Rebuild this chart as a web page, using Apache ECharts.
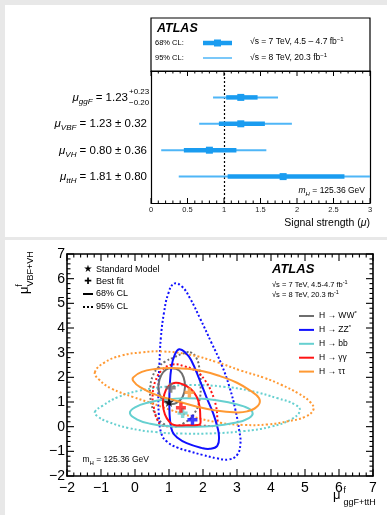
<!DOCTYPE html>
<html><head><meta charset="utf-8">
<script src="https://cdn.jsdelivr.net/npm/echarts@6/dist/echarts.min.js"></script>
<style>
html,body{margin:0;padding:0;background:#e8e8e8;}
#wrap{position:relative;width:387px;height:515px;overflow:hidden;}
.panel{position:absolute;background:#fff;}
#c{position:absolute;left:0;top:0;width:387px;height:515px;}
</style>
</head><body><div id="wrap">
<div class="panel" style="left:5px;top:5px;width:382px;height:232px;"></div>
<div class="panel" style="left:5px;top:240px;width:382px;height:275px;"></div>
<div id="c"></div></div>
<script>
// ---------- top panel data: signal strengths ----------
const prodModes = ['ggF', 'VBF', 'VH', 'ttH'];
const rowPos = [4, 3, 2, 1];
const muCentral = [1.23, 1.23, 0.80, 1.81];
const ci68Low = [1.03, 0.93, 0.45, 1.05];
const ci68High = [1.46, 1.56, 1.17, 2.65];
const ci95Low = [0.85, 0.66, 0.14, 0.38];
const ci95High = [1.74, 1.93, 1.58, 3.00];
const muLabelsMain = ['1.23', '1.23 ± 0.32', '0.80 ± 0.36', '1.81 ± 0.80'];
const topTicks = [0, 0.5, 1, 1.5, 2, 2.5, 3];
const topRows = [0, 5];
const smRef = 1;

// ---------- bottom panel data: 2D contours ----------
const bottomTicks = [-2, -1, 0, 1, 2, 3, 4, 5, 6, 7];
const channelNames = ['WW*', 'ZZ*', 'bb', 'γγ', 'ττ'];
const channelColors = ['#6e6e6e', '#1010ff', '#66d0d0', '#ff1414', '#ff9933'];
const bestFitX = [1.05, 1.69, 1.40, 1.35, 1.60];
const bestFitY = [1.58, 0.28, 0.55, 0.77, 1.39];
const smPoint = [1, 1];

const wwC68 = [[1.08,2.37],[1.30,2.28],[1.43,2.00],[1.47,1.60],[1.40,1.20],[1.22,0.96],[1.05,0.92],[0.85,1.03],[0.72,1.32],[0.69,1.70],[0.77,2.08],[0.91,2.31]];
const wwC95 = [[1.62,3.02],[1.80,2.80],[1.90,2.30],[1.93,1.70],[1.90,1.10],[1.75,0.55],[1.45,0.15],[1.10,0.00],[0.80,0.15],[0.58,0.55],[0.46,1.10],[0.45,1.60],[0.52,2.05],[0.68,2.40],[0.90,2.65],[1.13,2.80],[1.40,2.96]];
const zzC68 = [[1.30,3.14],[1.50,2.98],[1.65,2.70],[1.90,1.90],[2.10,1.20],[2.30,0.54],[2.42,0.00],[2.47,-0.40],[2.42,-0.78],[2.20,-0.90],[1.95,-0.86],[1.52,-0.67],[1.25,-0.45],[1.10,-0.20],[1.03,0.27],[1.01,1.00],[1.02,1.60],[1.07,2.40],[1.16,2.88]];
const zzC95 = [[1.15,5.80],[1.38,5.68],[1.62,5.20],[1.91,4.40],[2.25,3.40],[2.55,2.50],[2.78,1.60],[2.95,0.70],[3.07,-0.20],[3.10,-0.70],[3.00,-1.15],[2.75,-1.33],[2.40,-1.28],[2.00,-1.15],[1.60,-1.00],[1.25,-0.85],[0.95,-0.62],[0.78,-0.30],[0.70,0.50],[0.69,1.50],[0.72,2.60],[0.76,3.60],[0.85,4.60],[0.98,5.40]];
const bbC68 = [[-0.15,0.55],[0.00,0.78],[0.40,0.98],[0.90,1.10],[1.50,1.15],[2.10,1.12],[2.70,1.00],[3.20,0.82],[3.45,0.60],[3.35,0.35],[2.90,0.15],[2.30,0.03],[1.60,0.00],[1.00,0.02],[0.45,0.12],[0.05,0.30]];
const bbC95 = [[-1.18,0.60],[-0.95,0.85],[-0.50,1.20],[0.10,1.45],[0.90,1.62],[1.70,1.69],[2.60,1.62],[3.40,1.45],[4.20,1.15],[4.70,0.90],[4.85,0.65],[4.60,0.30],[4.00,0.00],[3.20,-0.18],[2.30,-0.27],[1.40,-0.28],[0.60,-0.22],[-0.20,-0.05],[-0.80,0.20],[-1.10,0.42]];
const ggC68 = [[1.15,1.77],[1.40,1.72],[1.65,1.52],[1.82,1.20],[1.90,0.80],[1.92,0.40],[1.92,0.12],[1.85,0.07],[1.50,0.06],[1.15,0.07],[1.00,0.22],[0.88,0.50],[0.82,0.90],[0.86,1.30],[0.97,1.62]];
const ggC95 = [[1.10,2.52],[1.45,2.45],[1.80,2.25],[2.05,1.90],[2.25,1.40],[2.38,0.85],[2.42,0.35],[2.40,0.07],[2.00,0.04],[1.40,0.04],[0.80,0.05],[0.65,0.30],[0.55,0.80],[0.52,1.30],[0.60,1.85],[0.80,2.30]];
const ttC68 = [[-0.05,2.00],[0.20,2.22],[0.60,2.34],[1.00,2.38],[1.50,2.35],[2.00,2.25],[2.50,2.05],[3.00,1.78],[3.40,1.45],[3.65,1.15],[3.62,0.85],[3.30,0.62],[2.90,0.58],[2.40,0.65],[1.80,0.82],[1.20,1.05],[0.60,1.30],[0.15,1.60],[-0.05,1.85]];
const ttC95 = [[-1.18,2.20],[-0.90,2.60],[-0.40,2.88],[0.20,3.01],[0.80,3.05],[1.60,2.92],[2.40,2.62],[3.10,2.28],[3.80,1.98],[4.30,1.70],[4.80,1.35],[5.15,1.00],[5.25,0.70],[5.00,0.40],[4.50,0.22],[3.90,0.09],[3.20,0.07],[2.50,0.16],[1.70,0.40],[1.00,0.70],[0.50,0.95],[-0.05,1.20],[-0.70,1.55],[-1.05,1.90]];

const contours68 = [wwC68, zzC68, bbC68, ggC68, ttC68];
const contours95 = [wwC95, zzC95, bbC95, ggC95, ttC95];

// ---------- styling ----------
const FONT = '"Liberation Sans", Arial, Helvetica, sans-serif';
const THICK = '#1a9cf0';
const THIN = '#4fb6f7';
const minus = v => (v < 0 ? '\u2212' + Math.abs(v) : String(v));

const chart = echarts.init(document.getElementById('c'), null, {renderer: 'canvas'});

function T(x, y, text, opt) {
  opt = opt || {};
  const st = Object.assign({
    text: text, fontFamily: FONT, fontSize: 9, fill: '#000',
    align: opt.align || 'left', textAlign: opt.align || 'left',
    verticalAlign: 'middle', textVerticalAlign: 'middle'
  }, opt.style || {});
  return {type: 'text', x: x, y: y, rotation: opt.rotation || 0, style: st, silent: true, z: 50};
}

const graphics = [
  {type: 'rect', shape: {x: 151, y: 18, width: 219, height: 53}, style: {fill: 'none', stroke: '#000', lineWidth: 1.2}, z: 40, silent: true},
  T(157, 29, 'ATLAS', {style: {fontSize: 12.5, fontWeight: 'bold', fontStyle: 'italic'}}),
  T(155, 43, '68% CL:', {style: {fontSize: 7.5}}),
  T(155, 58, '95% CL:', {style: {fontSize: 7.5}}),
  {type: 'line', shape: {x1: 203, y1: 43, x2: 232, y2: 43}, style: {stroke: THICK, lineWidth: 4.5}, z: 40, silent: true},
  {type: 'rect', shape: {x: 214, y: 39.5, width: 7, height: 7}, style: {fill: THICK}, z: 41, silent: true},
  {type: 'line', shape: {x1: 203, y1: 58, x2: 232, y2: 58}, style: {stroke: THIN, lineWidth: 1.5}, z: 40, silent: true},
  T(250, 42, '√s = 7 TeV, 4.5 – 4.7 fb{sup|−1}', {style: {fontSize: 8.5, rich: {sup: {fontSize: 6, verticalAlign: 'top', lineHeight: 8}}, lineHeight: 12}}),
  T(250, 58, '√s = 8 TeV, 20.3 fb{sup|−1}', {style: {fontSize: 8.5, rich: {sup: {fontSize: 6, verticalAlign: 'top', lineHeight: 8}}, lineHeight: 12}}),
  T(129, 97.5, '+0.23\n\u22120.20', {style: {fontSize: 8, lineHeight: 11}}),
  T(365, 191, '{i|m}{s|H} = 125.36 GeV', {align: 'right', style: {fontSize: 8.5, lineHeight: 12, rich: {i: {fontStyle: 'italic', fontSize: 8.5, fontFamily: FONT}, s: {fontStyle: 'italic', fontSize: 6, verticalAlign: 'bottom', lineHeight: 8, fontFamily: FONT}}}}),
  T(370, 223, 'Signal strength ({i|μ})', {align: 'right', style: {fontSize: 10.5, rich: {i: {fontStyle: 'italic', fontSize: 10.5, fontFamily: FONT}}}}),

  T(272, 269, 'ATLAS', {style: {fontSize: 13, fontWeight: 'bold', fontStyle: 'italic'}}),
  T(272, 285, '√s = 7 TeV, 4.5-4.7 fb{sup|-1}', {style: {fontSize: 7.5, lineHeight: 11, rich: {sup: {fontSize: 5.5, verticalAlign: 'top', lineHeight: 7}}}}),
  T(272, 295, '√s = 8 TeV, 20.3 fb{sup|-1}', {style: {fontSize: 7.5, lineHeight: 11, rich: {sup: {fontSize: 5.5, verticalAlign: 'top', lineHeight: 7}}}}),
  T(88, 269.5, '★', {align: 'center', style: {fontSize: 10, fontFamily: '"DejaVu Sans", sans-serif'}}),
  T(96, 269.5, 'Standard Model', {style: {fontSize: 9}}),
  T(88, 282, '✚', {align: 'center', style: {fontSize: 9, fontFamily: '"DejaVu Sans", sans-serif'}}),
  T(96, 282, 'Best fit', {style: {fontSize: 9}}),
  {type: 'line', shape: {x1: 83, y1: 294, x2: 93, y2: 294}, style: {stroke: '#000', lineWidth: 2}, z: 40, silent: true},
  T(96, 294, '68% CL', {style: {fontSize: 9}}),
  {type: 'line', shape: {x1: 83, y1: 307, x2: 94, y2: 307}, style: {stroke: '#000', lineWidth: 2, lineDash: [2, 2]}, z: 40, silent: true},
  T(96, 307, '95% CL', {style: {fontSize: 9}}),
  T(82.5, 460, 'm{s|H} = 125.36 GeV', {style: {fontSize: 8.5, lineHeight: 12, rich: {s: {fontSize: 6, verticalAlign: 'bottom', lineHeight: 8, fontFamily: FONT}}}}),
  T(333, 495, 'μ', {style: {fontSize: 13}}),
  T(343.5, 490.5, 'f', {style: {fontSize: 8.5}}),
  T(343.5, 503, 'ggF+ttH', {style: {fontSize: 9}}),
  T(24.5, 294, 'μ', {rotation: Math.PI / 2, style: {fontSize: 13}}),
  T(20, 286.5, 'f', {rotation: Math.PI / 2, style: {fontSize: 8.5}}),
  T(31, 286.5, 'VBF+VH', {rotation: Math.PI / 2, style: {fontSize: 9}})
];

prodModes.forEach((m, i) => {
  const yPix = [98, 124, 151, 177][i];
  const xr = i === 0 ? 128 : 147;
  graphics.push(T(xr, yPix, '{mu|μ}{sub|' + m + '}{n| = ' + muLabelsMain[i] + '}', {
    align: 'right',
    style: {fontSize: 11.5, lineHeight: 16, rich: {
      mu: {fontSize: 11.5, fontStyle: 'italic', lineHeight: 16, fontFamily: FONT},
      sub: {fontSize: 8, fontStyle: 'italic', verticalAlign: 'bottom', lineHeight: 11, fontFamily: FONT},
      n: {fontSize: 11.5, lineHeight: 16, fontFamily: FONT}
    }}
  }));
});

channelNames.forEach((c, i) => {
  const y = 316 + i * 13.9;
  graphics.push({type: 'line', shape: {x1: 299, y1: y, x2: 314, y2: y}, style: {stroke: channelColors[i], lineWidth: 2}, z: 40, silent: true});
  const txt = c.endsWith('*') ? 'H → ' + c.slice(0, -1) + '{sup|*}' : 'H → ' + c;
  graphics.push(T(319, y, txt, {style: {fontSize: 8.5, lineHeight: 12, rich: {sup: {fontSize: 6, verticalAlign: 'top', lineHeight: 8, fontFamily: FONT}}}}));
});

function contourSeries(pts, color, dotted) {
  return {
    type: 'custom', xAxisIndex: 2, yAxisIndex: 2, data: pts, clip: true, silent: true, z: dotted ? 3 : 4,
    renderItem: function (params, api) {
      if (params.dataIndex !== 0) return null;
      const points = pts.map(p => api.coord(p));
      return {type: 'polygon', shape: {points: points, smooth: 0.45},
        style: {fill: 'none', stroke: color, lineWidth: 2, lineDash: dotted ? [2, 2.2] : null}};
    }
  };
}

const series = [];
series.push({
  type: 'custom', xAxisIndex: 0, yAxisIndex: 0, clip: true, silent: true, z: 5,
  data: prodModes.map((m, i) => [muCentral[i], ci68Low[i], ci68High[i], ci95Low[i], ci95High[i], rowPos[i]]),
  renderItem: function (params, api) {
    const y = api.value(5);
    const c = api.coord([api.value(0), y]);
    const l68 = api.coord([api.value(1), y]), h68 = api.coord([api.value(2), y]);
    const l95 = api.coord([api.value(3), y]), h95 = api.coord([api.value(4), y]);
    return {type: 'group', children: [
      {type: 'line', shape: {x1: l95[0], y1: l95[1], x2: h95[0], y2: h95[1]}, style: {stroke: THIN, lineWidth: 2}},
      {type: 'line', shape: {x1: l68[0], y1: l68[1], x2: h68[0], y2: h68[1]}, style: {stroke: THICK, lineWidth: 4.5}},
      {type: 'rect', shape: {x: c[0] - 3.5, y: c[1] - 3.5, width: 7, height: 7}, style: {fill: THICK}}
    ]};
  },
  markLine: {silent: true, symbol: 'none', label: {show: false},
    lineStyle: {color: '#000', type: [2, 2], width: 1.2}, data: [{xAxis: smRef}]}
});

contours95.forEach((c, i) => series.push(contourSeries(c, channelColors[i], true)));
contours68.forEach((c, i) => series.push(contourSeries(c, channelColors[i], false)));

series.push({
  type: 'scatter', xAxisIndex: 2, yAxisIndex: 2, silent: true, z: 8,
  symbol: 'path://M-1.2,-3.5H1.2V-1.2H3.5V1.2H1.2V3.5H-1.2V1.2H-3.5V-1.2H-1.2Z', symbolSize: 10,
  data: bestFitX.map((x, i) => ({value: [x, bestFitY[i]], itemStyle: {color: channelColors[i]}}))
});
series.push({
  type: 'scatter', xAxisIndex: 2, yAxisIndex: 2, silent: true, z: 9,
  symbol: 'path://M0,-10L2.35,-3.24L9.51,-3.09L3.8,1.24L5.88,8.09L0,4L-5.88,8.09L-3.8,1.24L-9.51,-3.09L-2.35,-3.24Z',
  symbolSize: 10, itemStyle: {color: '#000'}, data: [smPoint]
});

const axLine = w => ({show: true, onZero: false, lineStyle: {color: '#000', width: w}});
const noTick = {show: false};

const option = {
  animation: false,
  backgroundColor: 'transparent',
  textStyle: {fontFamily: FONT},
  grid: [
    {left: 151, top: 71, width: 219, height: 132, outerBoundsMode: 'none', containLabel: false},
    {left: 67, top: 254, width: 306, height: 222, outerBoundsMode: 'none', containLabel: false}
  ],
  xAxis: [
    {gridIndex: 0, type: 'value', min: topTicks[0], max: topTicks[topTicks.length - 1], interval: 0.5, position: 'bottom',
      axisLine: axLine(1.2), axisTick: noTick, minorTick: noTick,
      axisLabel: {fontSize: 7.5, color: '#222', margin: 3, fontFamily: FONT}, splitLine: {show: false}},
    {gridIndex: 0, type: 'value', min: topTicks[0], max: topTicks[topTicks.length - 1], interval: 0.5, position: 'top',
      axisLine: axLine(1.2), axisTick: noTick, minorTick: noTick, axisLabel: {show: false}, splitLine: {show: false}},
    {gridIndex: 1, type: 'value', min: bottomTicks[0], max: bottomTicks[bottomTicks.length - 1], interval: 1, position: 'bottom',
      axisLine: axLine(1.6), axisTick: noTick, minorTick: noTick,
      axisLabel: {fontSize: 14, color: '#000', margin: 5, fontFamily: FONT, formatter: minus}, splitLine: {show: false}},
    {gridIndex: 1, type: 'value', min: bottomTicks[0], max: bottomTicks[bottomTicks.length - 1], interval: 1, position: 'top',
      axisLine: axLine(1.6), axisTick: noTick, minorTick: noTick, axisLabel: {show: false}, splitLine: {show: false}}
  ],
  yAxis: [
    {gridIndex: 0, type: 'value', min: topRows[0], max: topRows[1], position: 'left', axisLine: axLine(1.2),
      axisTick: noTick, axisLabel: {show: false}, splitLine: {show: false}},
    {gridIndex: 0, type: 'value', min: topRows[0], max: topRows[1], position: 'right', axisLine: axLine(1.2),
      axisTick: noTick, axisLabel: {show: false}, splitLine: {show: false}},
    {gridIndex: 1, type: 'value', min: bottomTicks[0], max: bottomTicks[bottomTicks.length - 1], interval: 1, position: 'left',
      axisLine: axLine(1.6), axisTick: noTick, minorTick: noTick,
      axisLabel: {fontSize: 14, color: '#000', margin: 2, fontFamily: FONT, formatter: minus}, splitLine: {show: false}},
    {gridIndex: 1, type: 'value', min: bottomTicks[0], max: bottomTicks[bottomTicks.length - 1], interval: 1, position: 'right',
      axisLine: axLine(1.6), axisTick: noTick, minorTick: noTick, axisLabel: {show: false}, splitLine: {show: false}}
  ],
  series: series,
  graphic: {elements: graphics}
};
try { chart.setOption(option); } catch (e) { console.error(e); }

// ---- inside tick marks on every framed side, placed through the axes' own scales ----
function subdivide(ticks, n) {
  const out = [];
  for (let i = 0; i < ticks.length - 1; i++) {
    for (let k = 1; k < n; k++) out.push(ticks[i] + (ticks[i + 1] - ticks[i]) * k / n);
  }
  return out;
}
try {
  const tickEls = [];
  const seg = (a, b, lw) => tickEls.push({type: 'line', shape: {x1: a[0], y1: a[1], x2: b[0], y2: b[1]}, style: {stroke: '#000', lineWidth: lw}, silent: true, z: 45});
  function addTicks(xi, yi, xMajor, yMajor, doY, majLen, minLen, lw) {
    const P = (x, y) => chart.convertToPixel({xAxisIndex: xi, yAxisIndex: yi}, [x, y]);
    const x0 = xMajor[0], x1 = xMajor[xMajor.length - 1];
    const y0 = yMajor[0], y1 = yMajor[yMajor.length - 1];
    const xt = (v, len) => { const b = P(v, y0), t = P(v, y1); seg(b, [b[0], b[1] - len], lw); seg(t, [t[0], t[1] + len], lw); };
    const yt = (v, len) => { const l = P(x0, v), r = P(x1, v); seg(l, [l[0] + len, l[1]], lw); seg(r, [r[0] - len, r[1]], lw); };
    xMajor.forEach(v => xt(v, majLen));
    subdivide(xMajor, 5).forEach(v => xt(v, minLen));
    if (doY) { yMajor.forEach(v => yt(v, majLen)); subdivide(yMajor, 5).forEach(v => yt(v, minLen)); }
  }
  addTicks(0, 0, topTicks, topRows, false, 5, 2.5, 1);
  addTicks(2, 2, bottomTicks, bottomTicks, true, 7, 3.5, 1.1);
  chart.setOption({graphic: {elements: graphics.concat(tickEls)}});
} catch (e) { console.error(e); }
</script>
</body></html>
